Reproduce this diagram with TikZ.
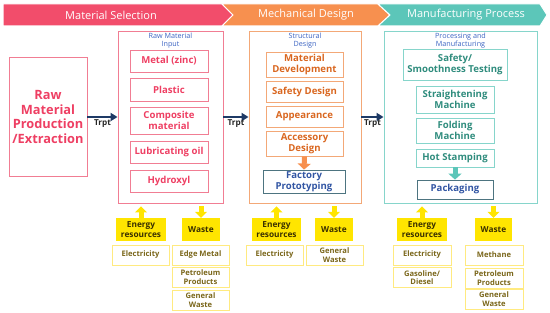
\documentclass[tikz,border=0pt]{standalone}
\usepackage{fontspec}
\setmainfont{Open Sans}
\usepackage{tikz}
\usetikzlibrary{positioning,arrows.meta,calc}

\definecolor{selred}{HTML}{F24D6B}
\definecolor{selline}{HTML}{F17D93}
\definecolor{seltext}{HTML}{EE3F63}
\definecolor{desorg}{HTML}{F7904F}
\definecolor{desline}{HTML}{F3A877}
\definecolor{destext}{HTML}{D9661F}
\definecolor{mfgteal}{HTML}{5CC6B9}
\definecolor{mfgline}{HTML}{86D5CB}
\definecolor{mfgtext}{HTML}{2F8C7D}
\definecolor{labblue}{HTML}{3C64C2}
\definecolor{navy}{HTML}{1E3A66}
\definecolor{slate}{HTML}{4D7480}
\definecolor{protoblue}{HTML}{3155A3}
\definecolor{yel}{HTML}{FFE500}
\definecolor{yelline}{HTML}{FFEA80}
\definecolor{olive}{HTML}{7A661A}
\definecolor{darkol}{HTML}{3A3000}

\tikzset{
  stagebox/.style={draw, line width=0.9pt, inner sep=0pt},
  item/.style={draw, line width=0.8pt, align=center, inner sep=0pt,
    font=\fontsize{9.6}{11.2}\selectfont\bfseries},
  sublab/.style={align=center, text=labblue, inner sep=0pt,
    font=\fontsize{7.2}{8}\selectfont},
  trpt/.style={draw=navy, line width=2pt, -{Triangle[width=8pt,length=7pt]}},
  trptlab/.style={font=\fontsize{8.2}{9}\selectfont\bfseries, text=black!85, inner sep=2pt},
  ybox/.style={fill=yel, align=center, inner sep=0pt, text=darkol,
    font=\fontsize{8.3}{10}\selectfont\bfseries},
  ysub/.style={draw=yelline, line width=0.8pt, align=center, inner sep=0pt,
    text=olive, minimum width=57pt, minimum height=20pt,
    font=\fontsize{7.6}{8.4}\selectfont\bfseries},
  yarrow/.style={draw=yel, line width=5pt, -{Triangle[width=12pt,length=6pt]}},
  headlab/.style={text=white, inner sep=0pt, font=\fontsize{11}{12}\selectfont}
}

\begin{document}
\begin{tikzpicture}[x=1pt,y=-1pt]
\useasboundingbox (0,0) rectangle (550,313);

% stage banner
\filldraw[selred,draw=white,line width=1pt] (3,4) -- (222,4) -- (233,15) -- (222,26) -- (3,26) -- cycle;
\filldraw[desorg,draw=white,line width=1pt] (222,4) -- (378,4) -- (390,15) -- (378,26) -- (222,26) -- (233,15) -- cycle;
\filldraw[mfgteal,draw=white,line width=1pt] (378,4) -- (540,4) -- (547,15) -- (540,26) -- (378,26) -- (390,15) -- cycle;
\node[headlab] (selhead) at (111,15) {Material Selection};
\node[headlab] (deshead) at (306,15) {Mechanical Design};
\node[headlab] (mfghead) at (466,15) {Manufacturing Process};

% stages
\node[stagebox, draw=selline, minimum width=78pt, minimum height=119pt, align=center,
  text=seltext, font=\fontsize{12.8}{14.5}\selectfont\bfseries] (rawprod) at (48,117)
  {Raw\\Material\\Production\\/Extraction};
\node[stagebox, draw=selline, minimum width=105pt, minimum height=172pt] (rawin) at (170.5,117) {};
\node[stagebox, draw=desline, minimum width=112pt, minimum height=172pt] (struct) at (305,117) {};
\node[stagebox, draw=mfgline, minimum width=153pt, minimum height=172pt] (proc) at (460.5,117) {};

\node[sublab] (rawinlab) at (170.5,41) {Raw Material\\Input};
\node[sublab] (structlab) at (305,41) {Structural\\Design};
\node[sublab] (proclab) at (460.5,40.5) {Processing and\\Manufacturing};

% material selection items
\foreach \n/\y/\h/\t in {metal/61/22/Metal (zinc), plastic/89.5/23/Plastic,
    compo/120.5/27/{Composite\\material}, lube/152/22/Lubricating oil, hydrox/181/22/Hydroxyl}
  \node[item, draw=selline, text=seltext, minimum width=78pt, minimum height=\h pt] (\n) at (169,\y) {\t};

% design items
\foreach \n/\y/\h/\t in {matdev/64.5/25/{Material\\Development}, safety/91.5/21/Safety Design,
    appear/116.5/21/Appearance, access/143.5/25/{Accessory\\Design}}
  \node[item, draw=desline, text=destext, minimum width=77pt, minimum height=\h pt] (\n) at (304.5,\y) {\t};
\node[item, draw=slate, text=protoblue, minimum width=82pt, minimum height=23pt] (proto) at (304,181.5)
  {Factory\\Prototyping};

% manufacturing items
\node[item, draw=mfgline, text=mfgtext, minimum width=104pt, minimum height=31pt] (smooth) at (455,64.5)
  {Safety/\\Smoothness Testing};
\foreach \n/\y/\h/\t in {straight/99.5/27/{Straightening\\Machine}, fold/130.5/25/{Folding\\Machine},
    hotstamp/158/18/Hot Stamping}
  \node[item, draw=mfgline, text=mfgtext, minimum width=78pt, minimum height=\h pt] (\n) at (455,\y) {\t};
\node[item, draw=slate, text=protoblue, minimum width=76pt, minimum height=19pt] (pack) at (455,189.5)
  {Packaging};

\draw[draw=desorg, line width=5pt, -{Triangle[width=13pt,length=6pt]}] (access.south) -- (proto.north);
\draw[draw=mfgteal, line width=5pt, -{Triangle[width=13pt,length=6pt]}] (hotstamp.south) -- (pack.north);

% transport
\draw[trpt] (rawprod.east) -- node[below,trptlab]{Trpt} (rawprod.east -| rawin.west);
\draw[trpt] (rawin.east) -- node[below,trptlab]{Trpt} (rawin.east -| struct.west);
\draw[trpt] (struct.east) -- node[below,trptlab]{Trpt} (struct.east -| proc.west);

% energy and waste
\node[ybox, minimum width=50pt, minimum height=23pt] (en1) at (141,229.5) {Energy\\resources};
\node[ybox, minimum width=38pt, minimum height=23pt] (wa1) at (201,229.5) {Waste};
\node[ybox, minimum width=49pt, minimum height=23pt] (en2) at (276.5,229.5) {Energy\\resources};
\node[ybox, minimum width=38pt, minimum height=23pt] (wa2) at (334,229.5) {Waste};
\node[ybox, minimum width=50pt, minimum height=23pt] (en3) at (422,229.5) {Energy\\resources};
\node[ybox, minimum width=37pt, minimum height=23pt] (wa3) at (493.5,229.5) {Waste};

\draw[yarrow, shorten >=3pt] (en1.north) -- (en1.north |- rawin.south);
\draw[yarrow, shorten <=3pt] (wa1.north |- rawin.south) -- (wa1.north);
\draw[yarrow, shorten >=3pt] (en2.north) -- (en2.north |- struct.south);
\draw[yarrow, shorten <=3pt] (wa2.north |- struct.south) -- (wa2.north);
\draw[yarrow, shorten >=3pt] (en3.north) -- (en3.north |- proc.south);
\draw[yarrow, shorten <=3pt] (wa3.north |- proc.south) -- (wa3.north);

\node[ysub] (elec1) at (140.5,255) {Electricity};
\node[ysub] (edge) at (200.5,255) {Edge Metal};
\node[ysub] (petro1) at (200.5,277) {Petroleum\\Products};
\node[ysub] (genw1) at (200.5,300) {General\\Waste};
\node[ysub] (elec2) at (274.5,255) {Electricity};
\node[ysub] (genw2) at (334.5,255) {General\\Waste};
\node[ysub, minimum width=58pt] (elec3) at (422,255) {Electricity};
\node[ysub, minimum width=58pt] (gas) at (422,277.5) {Gasoline/\\Diesel};
\node[ysub, minimum width=58pt] (meth) at (494,255) {Methane};
\node[ysub, minimum width=58pt] (petro3) at (494,278) {Petroleum\\Products};
\node[ysub, minimum width=58pt] (genw3) at (494,299) {General\\Waste};
\end{tikzpicture}
\end{document}
